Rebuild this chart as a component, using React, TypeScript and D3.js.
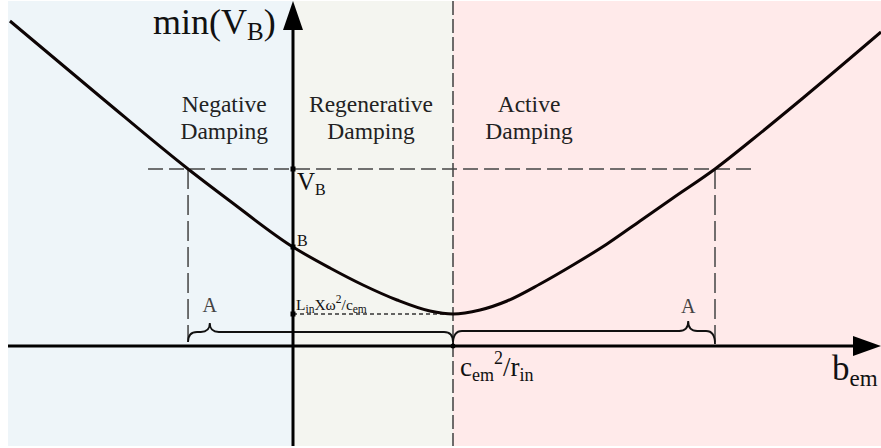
import React from "react";
import * as d3 from "d3";

const W = 881;
const H = 448;

// Curve samples: b_em (in units of c_em^2/r_in) and the matching min(V_B)
const curveB = [-1.769, -1.1875, -0.656, -0.394, 0, 0.231, 0.4375, 0.65, 0.856, 1.0, 1.169, 1.3375, 1.544, 1.75, 1.9625, 2.169, 2.375, 2.6375, 2.875, 3.1875, 3.675];
const curveV = [3.25, 2.47, 1.77, 1.45, 0.99, 0.78, 0.61, 0.46, 0.35, 0.32, 0.36, 0.45, 0.62, 0.81, 1.02, 1.25, 1.48, 1.77, 2.07, 2.48, 3.14];

// Reference values on the axes
const critB = 1; // c_em^2 / r_in
const levelVB = 1.77; // V_B
const valueAtZero = 0.99; // B
const minV = 0.32; // L_in X ω^2 / c_em
const crossB = [-0.656, 2.6375]; // where the curve meets V_B

const regionLines = [
  ["Negative", "Damping"],
  ["Regenerative", "Damping"],
  ["Active", "Damping"],
];
const regionColors = ["#eef5f9", "#f4f5f0", "#ffeaea"];

const serif = "'Liberation Serif', 'Times New Roman', serif";

function brace(x1: number, x2: number, xp: number, yEnd: number, yLine: number, yTip: number) {
  const r = 9;
  const p = d3.path();
  p.moveTo(x1, yEnd);
  p.quadraticCurveTo(x1, yLine, x1 + r, yLine);
  p.lineTo(xp - r, yLine);
  p.quadraticCurveTo(xp, yLine, xp, yTip);
  p.quadraticCurveTo(xp, yLine, xp + r, yLine);
  p.lineTo(x2 - r, yLine);
  p.quadraticCurveTo(x2, yLine, x2, yEnd);
  return p.toString();
}

export default function App() {
  const x = d3.scaleLinear().domain([0, 1]).range([293, 453]);
  const y = d3.scaleLinear().domain([0, 1]).range([346, 246]);

  const left = 8;
  const right = W;
  const top = 1;
  const bottom = 446;

  const pts = curveB.map((b, i) => [b, curveV[i]] as [number, number]);
  const line = d3
    .line<[number, number]>()
    .x((d) => x(d[0]))
    .y((d) => y(d[1]))
    .curve(d3.curveMonotoneX);

  const x0 = x(0);
  const xc = x(critB);
  const y0 = y(0);
  const yVB = y(levelVB);
  const yB = y(valueAtZero);
  const yMin = y(minV);
  const xA1 = x(crossB[0]);
  const xA2 = x(crossB[1]);

  const regionEdges = [left, x0, xc, right];
  const labelX = [x(-0.43), x(0.4875), x(1.475)];

  return (
    <svg width={W} height={H} style={{ position: "absolute", left: 0, top: 0, background: "#fff" }}>
      {regionColors.map((c, i) => (
        <rect key={i} x={regionEdges[i]} y={top} width={regionEdges[i + 1] - regionEdges[i]} height={bottom - top} fill={c} />
      ))}

      {/* threshold c_em^2/r_in */}
      <line x1={xc} x2={xc} y1={top} y2={bottom} stroke="#333" strokeWidth={1.4} strokeDasharray="14,4" />

      {/* V_B level and the A bounds */}
      <line x1={x(-0.906)} x2={x(2.9)} y1={yVB} y2={yVB} stroke="#444" strokeWidth={1.5} strokeDasharray="15,6" />
      <line x1={xA1} x2={xA1} y1={yVB} y2={342} stroke="#444" strokeWidth={1.5} strokeDasharray="20,6" />
      <line x1={xA2} x2={xA2} y1={yVB} y2={342} stroke="#444" strokeWidth={1.5} strokeDasharray="20,6" />

      {/* minimum level */}
      <line x1={x0} x2={xc} y1={yMin} y2={yMin} stroke="#333" strokeWidth={1.3} strokeDasharray="4,3" />

      {/* braces */}
      <path d={brace(xA1, xc, x(-0.52), 342, 332, 323)} fill="none" stroke="#111" strokeWidth={1.8} />
      <path d={brace(xc, xA2, x(2.47), 344, 331, 321)} fill="none" stroke="#111" strokeWidth={1.8} />

      {/* axes */}
      <line x1={left} x2={855} y1={y0} y2={y0} stroke="#000" strokeWidth={3} />
      <polygon points={`${right},${y0} 853,${y0 - 10} 853,${y0 + 10}`} fill="#000" />
      <line x1={x0} x2={x0} y1={28} y2={bottom} stroke="#000" strokeWidth={3} />
      <polygon points={`${x0},1 ${x0 - 10},30 ${x0 + 10},30`} fill="#000" />

      {/* curve */}
      <path d={line(pts) || ""} fill="none" stroke="#0d0404" strokeWidth={3} />

      {/* markers */}
      {[yVB, yB, yMin].map((yy, i) => (
        <rect key={i} x={x0 - 2.5} y={yy - 2.5} width={5} height={5} fill="#000" />
      ))}
      <circle cx={xc} cy={y0} r={2.5} fill="#000" />

      {/* region labels */}
      <g fontFamily={serif} fontSize={23.5} fill="#222" textAnchor="middle">
        {regionLines.map((lines, i) => (
          <text key={i} x={labelX[i]} y={112}>
            {lines.map((t, j) => (
              <tspan key={j} x={labelX[i]} dy={j === 0 ? 0 : 27}>
                {t}
              </tspan>
            ))}
          </text>
        ))}
      </g>

      {/* axis titles */}
      <text x={153} y={34} fontFamily={serif} fontSize={36} fill="#111">
        min(V<tspan fontSize={25} dy={6}>B</tspan>
        <tspan dy={-6}>)</tspan>
      </text>
      <text x={832} y={380} fontFamily={serif} fontSize={35} fill="#111">
        b<tspan fontSize={23} dy={6}>em</tspan>
      </text>

      {/* value labels */}
      <text x={x0 + 4} y={190} fontFamily={serif} fontSize={25} fill="#111">
        V<tspan fontSize={16} dy={5}>B</tspan>
      </text>
      <text x={x0 + 4} y={yB - 1} fontFamily={serif} fontSize={16} fill="#111">
        B
      </text>
      <text x={x0 + 3} y={310} fontFamily={serif} fontSize={15.5} fill="#111">
        L<tspan fontSize={11.5} dy={3}>in</tspan>
        <tspan dy={-3}>Xω</tspan>
        <tspan fontSize={11.5} dy={-7}>2</tspan>
        <tspan dy={7}>/c</tspan>
        <tspan fontSize={11.5} dy={3}>em</tspan>
      </text>
      <text x={xc + 7} y={376} fontFamily={serif} fontSize={27} fill="#111">
        c<tspan fontSize={18} dy={5}>em</tspan>
        <tspan fontSize={18} dy={-17}>2</tspan>
        <tspan dy={12}>/r</tspan>
        <tspan fontSize={18} dy={5}>in</tspan>
      </text>

      {/* brace labels */}
      <g fontFamily={serif} fontSize={20} fill="#444" textAnchor="middle">
        <text x={x(-0.52)} y={312}>A</text>
        <text x={x(2.47)} y={313}>A</text>
      </g>
    </svg>
  );
}
